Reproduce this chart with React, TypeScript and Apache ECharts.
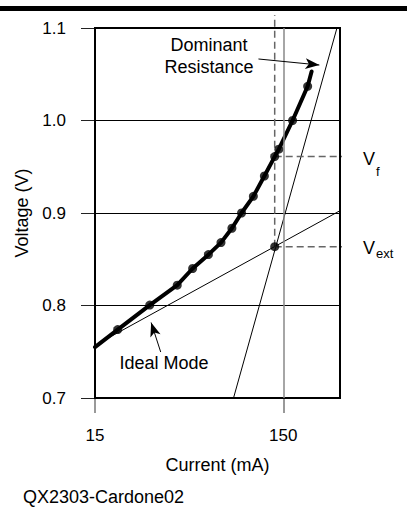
import React, { useEffect, useRef } from "react";
import * as echarts from "echarts";

// ---- data (current in mA, voltage in V) ----
const curveCurrent = [15, 19.8, 29.3, 41, 49.5, 60, 70, 80, 90, 104, 119, 135, 142, 168, 202, 212];
const curveVoltage = [0.755, 0.774, 0.8005, 0.822, 0.84, 0.855, 0.868, 0.8835, 0.9, 0.918, 0.94, 0.961, 0.969, 1.0, 1.037, 1.053];
const dotCurrent = [19.8, 29.3, 41, 49.5, 60, 70, 80, 90, 104, 119, 135, 142, 168, 202];
const dotVoltage = [0.774, 0.8005, 0.822, 0.84, 0.855, 0.868, 0.8835, 0.9, 0.918, 0.94, 0.961, 0.969, 1.0, 1.037];
const idealCurrent = [15, 300];
const idealVoltage = [0.757, 0.9025];
const resistCurrent = [81.6, 289];
const resistVoltage = [0.7, 1.1];
const vextCurrent = 135;
const vextVoltage = 0.8636;
const vfVoltage = 0.961;
const xTickLabels = [15, 150];
const yTicks = [0.7, 0.8, 0.9, 1.0, 1.1];

const X_MIN = 15;
const X_MAX = 300;
const FONT = "'Liberation Sans', Arial, sans-serif";

const dec = (i: number) => Math.log10(i / X_MIN);
const pts = (xs: number[], ys: number[]) => xs.map((x, k) => [dec(x), ys[k]]);

export default function App() {
  const ref = useRef<HTMLDivElement>(null);
  useEffect(() => {
    if (!ref.current) return;
    const chart = echarts.init(ref.current, null, { renderer: "svg" });
    const dash = { color: "#666", width: 1.5, type: [7, 4] as any };
    chart.setOption({
      animation: false,
      textStyle: { fontFamily: FONT },
      grid: {
        left: 95,
        right: 67,
        top: 28,
        bottom: 110,
        show: true,
        borderColor: "#000",
        borderWidth: 2,
        backgroundColor: "transparent",
        z: 5,
      },
      xAxis: {
        type: "value",
        min: 0,
        max: dec(X_MAX),
        interval: 1,
        axisLine: { show: false },
        axisTick: {
          show: true,
          length: 15,
          customValues: xTickLabels.map(dec),
          lineStyle: { color: "#777", width: 1.5 },
        },
        axisLabel: {
          customValues: xTickLabels.map(dec),
          formatter: (v: number) => String(Math.round(X_MIN * Math.pow(10, v))),
          fontSize: 17,
          color: "#000",
          margin: 29,
          fontFamily: FONT,
        },
        splitLine: { show: false },
        name: "Current (mA)",
        nameLocation: "middle",
        nameGap: 58,
        nameTextStyle: { fontSize: 18, color: "#000", fontFamily: FONT },
      },
      yAxis: {
        type: "value",
        min: yTicks[0],
        max: yTicks[yTicks.length - 1],
        interval: 0.1,
        axisLine: { show: false },
        axisTick: { show: true, length: 14, lineStyle: { color: "#222", width: 1 } },
        axisLabel: {
          formatter: (v: number) => v.toFixed(1),
          fontSize: 17,
          color: "#000",
          margin: 29,
          fontFamily: FONT,
        },
        splitLine: { show: true, lineStyle: { color: "#000", width: 1 } },
        name: "Voltage (V)",
        nameLocation: "middle",
        nameGap: 64,
        nameTextStyle: { fontSize: 18, color: "#000", fontFamily: FONT },
      },
      series: [
        {
          type: "line",
          data: pts(idealCurrent, idealVoltage),
          symbol: "none",
          lineStyle: { color: "#000", width: 1 },
          z: 2,
          markLine: {
            silent: true,
            symbol: "none",
            label: { show: false },
            lineStyle: { color: "#888", width: 1.5, type: "solid" },
            data: [{ xAxis: dec(150) }],
          },
        },
        {
          type: "line",
          data: pts(resistCurrent, resistVoltage),
          symbol: "none",
          lineStyle: { color: "#000", width: 1 },
          z: 2,
        },
        {
          type: "line",
          clip: false,
          data: [[dec(vextCurrent), vextVoltage], [dec(vextCurrent), 1.114]],
          symbol: "none",
          lineStyle: dash,
          z: 2,
        },
        {
          type: "line",
          clip: false,
          data: [[dec(vextCurrent), vfVoltage], [dec(360), vfVoltage]],
          symbol: "none",
          lineStyle: dash,
          z: 2,
        },
        {
          type: "line",
          clip: false,
          data: [[dec(vextCurrent), vextVoltage], [dec(360), vextVoltage]],
          symbol: "none",
          lineStyle: dash,
          z: 2,
          markLine: {
            silent: true,
            symbol: ["none", "arrow"],
            symbolSize: [8, 14],
            label: { show: false },
            lineStyle: { color: "#000", width: 1, type: "solid" },
            data: [
              [
                { coord: [dec(110.7), 1.0665] },
                { coord: [dec(233), 1.06] },
              ],
              [
                { coord: [dec(33.5), 0.7497] },
                { coord: [dec(29.8), 0.7816] },
              ],
            ],
          },
        },
        {
          type: "line",
          data: pts(curveCurrent, curveVoltage),
          symbol: "none",
          lineStyle: { color: "#000", width: 4, join: "round", cap: "round" },
          z: 3,
        },
        {
          type: "scatter",
          data: [...pts(dotCurrent, dotVoltage), [dec(vextCurrent), vextVoltage]],
          symbol: "circle",
          symbolSize: 9,
          itemStyle: { color: "#000" },
          z: 4,
        },
      ],
      graphic: [
        { type: "rect", shape: { x: 0, y: 6, width: 407, height: 5 }, style: { fill: "#000" } },
        {
          type: "text",
          x: 209,
          y: 56,
          style: {
            text: "Dominant\nResistance",
            fontSize: 18,
            fontFamily: FONT,
            fill: "#000",
            align: "center",
            verticalAlign: "middle",
            lineHeight: 21.7,
          },
        },
        {
          type: "text",
          x: 164,
          y: 363,
          style: { text: "Ideal Mode", fontSize: 18, fontFamily: FONT, fill: "#000", align: "center", verticalAlign: "middle" },
        },
        {
          type: "text",
          x: 363,
          y: 159,
          style: { text: "V", fontSize: 18, fontFamily: FONT, fill: "#000", align: "left", verticalAlign: "middle" },
        },
        {
          type: "text",
          x: 376,
          y: 171,
          style: { text: "f", fontSize: 13, fontFamily: FONT, fill: "#000", align: "left", verticalAlign: "middle" },
        },
        {
          type: "text",
          x: 363,
          y: 247.5,
          style: { text: "V", fontSize: 18, fontFamily: FONT, fill: "#000", align: "left", verticalAlign: "middle" },
        },
        {
          type: "text",
          x: 376,
          y: 253,
          style: { text: "ext", fontSize: 13, fontFamily: FONT, fill: "#000", align: "left", verticalAlign: "middle" },
        },
        {
          type: "text",
          x: 23,
          y: 497,
          style: { text: "QX2303-Cardone02", fontSize: 18, fontFamily: FONT, fill: "#000", align: "left", verticalAlign: "middle" },
        },
      ],
    });
    return () => chart.dispose();
  }, []);
  return (
    <div
      ref={ref}
      style={{ position: "fixed", left: 0, top: 0, width: 407, height: 508, background: "#fff" }}
    />
  );
}
